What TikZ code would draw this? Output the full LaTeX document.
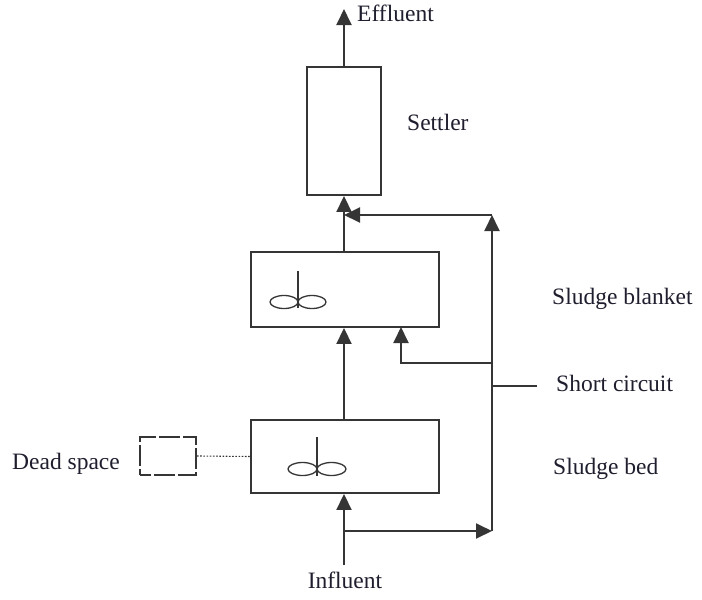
\documentclass[tikz,border=0pt]{standalone}
\usepackage{fontspec}
\setmainfont{Liberation Serif}
\usetikzlibrary{arrows.meta}
\definecolor{ln}{HTML}{353535}
\definecolor{tx}{HTML}{1E1E2E}
\tikzset{
  box/.style={draw=ln, line width=1.9pt, minimum width=#1, inner sep=0pt},
  conn/.style={draw=ln, line width=1.9pt},
  arr/.style={conn, -{Triangle[length=16pt,width=15pt]}},
  lbl/.style={text=tx, anchor=base west, inner sep=0pt, font=\fontsize{23.5}{28}\selectfont},
  imp/.style={draw=ln, line width=1.3pt}
}
\begin{document}
\begin{tikzpicture}[x=1pt,y=-1pt]
\useasboundingbox (0,0) rectangle (702,600);
% boxes
\node[box=74pt, minimum height=128pt] (settler) at (344,131) {};
\node[box=188pt, minimum height=75pt] (blanket) at (345,289.5) {};
\node[box=188pt, minimum height=73pt] (bed) at (345,456.5) {};
\node[draw=ln, line width=1.9pt, minimum width=56pt, minimum height=38pt, inner sep=0pt, dash pattern=on 21pt off 3pt, dash phase=10pt] (dead) at (168,456) {};
% free ends
\coordinate (eff) at (344,9);
\coordinate (inf) at (344,565);
\coordinate (j1) at (344,531);
\coordinate (r1) at (492,531);
\coordinate (rtop) at (492,215);
\coordinate (ltop) at (344,215);
\coordinate (rmid) at (492,363);
\coordinate (bmid) at (401,363);
\coordinate (bin) at (401,327);
\coordinate (sc0) at (492,386);
\coordinate (sc1) at (537,386);
% connectors
\draw[arr] (settler.north -| eff) -- (eff);
\draw[arr] (blanket.north -| eff) -- (settler.south -| eff);
\draw[arr] (bed.north -| eff) -- (blanket.south -| eff);
\draw[arr] (inf) -- (bed.south -| inf);
\draw[arr] (j1) -- (r1);
\draw[arr] (r1) -- (rtop);
\draw[arr] (rtop) -- (ltop);
\draw[arr] (rmid) -- (bmid) -- (bin);
\draw[conn] (sc0) -- (sc1);
\draw[draw=ln, line width=1.1pt, dash pattern=on 1.6pt off 1.6pt] (dead.east) -- (bed.west);
% impellers
\draw[imp] (298,271) -- (298,308);
\draw[imp] (284,302) ellipse [x radius=14, y radius=6.5];
\draw[imp] (312,302) ellipse [x radius=14, y radius=6.5];
\draw[imp] (317,437) -- (317,476);
\draw[imp] (302.5,469) ellipse [x radius=14.5, y radius=6.5];
\draw[imp] (331.5,469) ellipse [x radius=14.5, y radius=6.5];
% labels
\node[lbl] (teff) at (357,21) {Effluent};
\node[lbl] (tset) at (407,130) {Settler};
\node[lbl] (tbl) at (552,304) {Sludge blanket};
\node[lbl] (tsc) at (556,391) {Short circuit};
\node[lbl] (tbed) at (553,474) {Sludge bed};
\node[lbl] (tdead) at (12,469) {Dead space};
\node[lbl, anchor=base] (tinf) at (345,588) {Influent};
\end{tikzpicture}
\end{document}
